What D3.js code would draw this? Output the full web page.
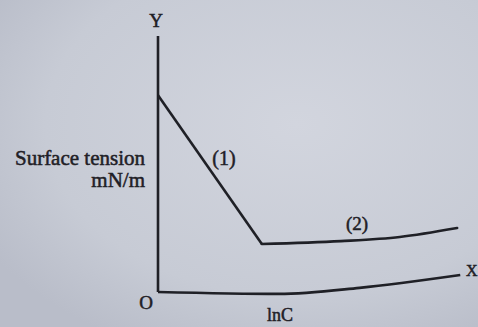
<!DOCTYPE html>
<html>
<head>
<meta charset="utf-8">
<script src="https://cdn.jsdelivr.net/npm/d3@7"></script>
<style>
  html, body { margin: 0; padding: 0; background: #c9cdd6; }
  svg { display: block; }
</style>
</head>
<body>
<svg id="chart" width="478" height="327"></svg>
<script>
// Region (1): surface tension falls linearly with lnC
const region1 = [
  { lnC: 0.0, tension: 61.5 },
  { lnC: 3.35, tension: 15.0 }
];
// Region (2): above the CMC the surface tension barely changes
const region2 = [
  { lnC: 3.35, tension: 15.0 },
  { lnC: 5.9, tension: 15.9 },
  { lnC: 7.8, tension: 17.2 },
  { lnC: 9.65, tension: 20.0 }
];
// Drawn lnC axis (slightly bowed, as printed)
const baseline = [
  { lnC: 0.0, tension: 0.0 },
  { lnC: 3.9, tension: -0.6 },
  { lnC: 6.5, tension: 1.3 },
  { lnC: 9.75, tension: 5.3 }
];
const yAxisTop = 80;
const labels = { y: "Y", x: "X", origin: "O", xTitle: "lnC",
                 yTitle: ["Surface tension", "mN/m"], r1: "(1)", r2: "(2)" };

const svg = d3.select("#chart");
const W = 478, H = 327;

// Paper background with soft uneven lighting
const defs = svg.append("defs");
const grad = defs.append("radialGradient").attr("id", "paper")
  .attr("cx", "62%").attr("cy", "38%").attr("r", "75%");
grad.append("stop").attr("offset", "0%").attr("stop-color", "#d2d5de");
grad.append("stop").attr("offset", "70%").attr("stop-color", "#c7cbd5");
grad.append("stop").attr("offset", "100%").attr("stop-color", "#b9bdc9");
svg.append("rect").attr("width", W).attr("height", H).attr("fill", "url(#paper)");

const x = d3.scaleLinear().domain([0, 10]).range([158, 468]);
const y = d3.scaleLinear().domain([0, yAxisTop]).range([292, 36]);

const ink = "#1f2026";
const line = d3.line().x(d => x(d.lnC)).y(d => y(d.tension));
const curve = d3.line().x(d => x(d.lnC)).y(d => y(d.tension)).curve(d3.curveMonotoneX);

// Vertical axis
svg.append("line")
  .attr("x1", x(0)).attr("x2", x(0))
  .attr("y1", y(0)).attr("y2", y(yAxisTop))
  .attr("stroke", ink).attr("stroke-width", 2.6);

// Horizontal axis
svg.append("path").datum(baseline).attr("d", curve)
  .attr("fill", "none").attr("stroke", ink).attr("stroke-width", 2.6)
  .attr("stroke-linejoin", "round");

// Region (1)
svg.append("path").datum(region1).attr("d", line)
  .attr("fill", "none").attr("stroke", ink).attr("stroke-width", 2.6);

// Region (2)
svg.append("path").datum(region2).attr("d", curve)
  .attr("fill", "none").attr("stroke", ink).attr("stroke-width", 2.6)
  .attr("stroke-linecap", "round");

const font = "'Liberation Serif', 'Times New Roman', serif";
function txt(s, px, py, size, anchor) {
  svg.append("text").text(s)
    .attr("x", px).attr("y", py)
    .attr("font-family", font).attr("font-size", size)
    .attr("text-anchor", anchor || "start")
    .attr("fill", ink).attr("stroke", ink).attr("stroke-width", 0.5);
}

txt(labels.y, 156, 27, 19, "middle");
txt(labels.yTitle[0], 145, 165, 21, "end");
txt(labels.yTitle[1], 145, 187, 21, "end");
txt(labels.r1, 224, 165, 20, "middle");
txt(labels.r2, 357, 230, 19, "middle");
txt(labels.origin, 146, 309, 19, "middle");
txt(labels.xTitle, 280, 321, 18, "middle");
txt(labels.x, 466, 276, 16, "start");
</script>
</body>
</html>
